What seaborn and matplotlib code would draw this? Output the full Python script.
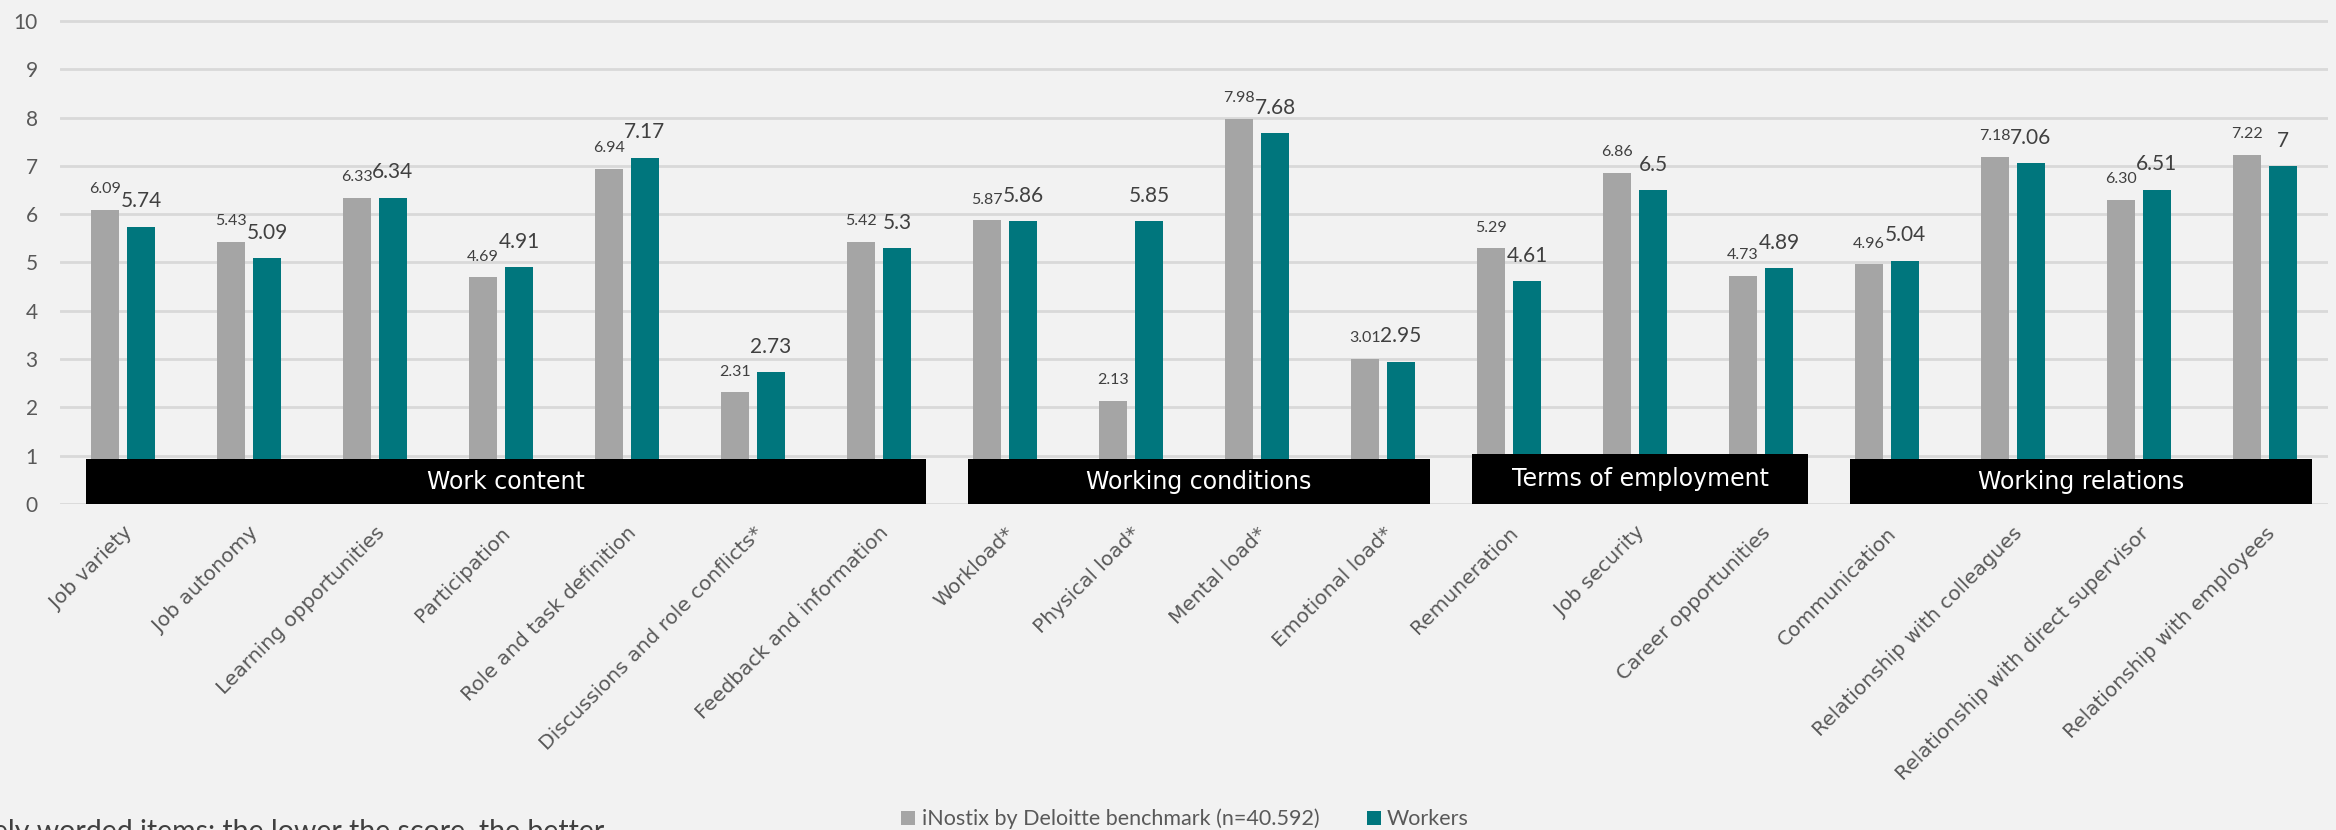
import matplotlib
matplotlib.use("Agg")
import matplotlib.pyplot as plt
import pandas as pd
import seaborn as sns
from matplotlib.patches import Rectangle

# ---- data -------------------------------------------------------------
categories = [
    "Job variety", "Job autonomy", "Learning opportunities", "Participation",
    "Role and task definition", "Discussions and role conflicts*",
    "Feedback and information",
    "Workload*", "Physical load*", "Mental load*", "Emotional load*",
    "Remuneration", "Job security", "Career opportunities",
    "Communication", "Relationship with colleagues",
    "Relationship with direct supervisor", "Relationship with employees",
]
benchmark = [6.09, 5.43, 6.33, 4.69, 6.94, 2.31, 5.42,
             5.87, 2.13, 7.98, 3.01,
             5.29, 6.86, 4.73,
             4.96, 7.18, 6.30, 7.22]
workers = [5.74, 5.09, 6.34, 4.91, 7.17, 2.73, 5.3,
           5.86, 5.85, 7.68, 2.95,
           4.61, 6.5, 4.89,
           5.04, 7.06, 6.51, 7]
series_names = ["iNostix by Deloitte benchmark (n=40.592)", "Workers"]
groups = ["Work content", "Working conditions", "Terms of employment", "Working relations"]
group_sizes = [7, 4, 3, 4]
y_ticks = list(range(0, 11))
footnote = "* Negatively worded items: the lower the score, the better"

# ---- style ------------------------------------------------------------
BG = "#F2F2F2"
GREY = "#A5A5A5"
TEAL = "#00767D"
GRID = "#D9D9D9"
AXIS_TXT = "#595959"
VAL_TXT = "#404040"

sns.set_theme(style="white", rc={"axes.facecolor": BG, "figure.facecolor": BG})
plt.rcParams["font.family"] = ["DejaVu Sans"]

W, H = 2336, 830
fig = plt.figure(figsize=(W / 100, H / 100), dpi=100, facecolor=BG)
ax = fig.add_axes([60 / W, 1 - 504 / H, (2328 - 60) / W, (504 - 20) / H])

df = pd.DataFrame({
    "item": categories * 2,
    "series": [series_names[0]] * len(categories) + [series_names[1]] * len(categories),
    "score": benchmark + workers,
})

sns.barplot(data=df, x="item", y="score", hue="series", order=categories,
            hue_order=series_names, palette=[GREY, TEAL], saturation=1,
            width=0.571, gap=0.224, errorbar=None, linewidth=0, ax=ax)

# value labels above each bar
ax.bar_label(ax.containers[0], labels=[f"{v:.2f}" for v in benchmark],
             padding=10, fontsize=11.5, color=VAL_TXT, family="Lato")
ax.bar_label(ax.containers[1], labels=[f"{v:g}" for v in workers],
             padding=11, fontsize=15, color=VAL_TXT, family="Lato")

# axes
ax.set_ylim(0, 10.02)
ax.set_xlim(-0.5, len(categories) - 0.5)
ax.set_yticks(y_ticks)
ax.set_yticklabels([str(t) for t in y_ticks], family="Lato", fontsize=15, color=AXIS_TXT)
ax.yaxis.grid(True, color=GRID, linewidth=2)
ax.set_axisbelow(True)
for s in ax.spines.values():
    s.set_visible(False)
ax.tick_params(axis="both", length=0)
ax.tick_params(axis="y", pad=16)
ax.tick_params(axis="x", pad=14)
ax.set_xlabel("")
ax.set_ylabel("")
ax.set_xticks(range(len(categories)))
ax.set_xticklabels(categories, rotation=45, ha="right", va="top",
                   rotation_mode="anchor", fontsize=14.5, color=AXIS_TXT)

# black group bands across the base of the bars
start = 0
for name, n in zip(groups, group_sizes):
    x0 = start - 0.29
    x1 = start + n - 1 + 0.37
    top = 1.03 if name == "Terms of employment" else 0.93
    ax.add_patch(Rectangle((x0, 0), x1 - x0, top, facecolor="black",
                           edgecolor="none", zorder=5, clip_on=False))
    ax.text((x0 + x1) / 2, top / 2, name, ha="center", va="center",
            color="white", fontsize=17, zorder=6)
    start += n

# legend at the bottom
sns.move_legend(ax, "center", bbox_to_anchor=(1185 / W, 1 - 819 / H),
                bbox_transform=fig.transFigure, ncol=2, frameon=False,
                title=None, prop={"family": "Lato", "size": 15.5},
                labelcolor=AXIS_TXT, handlelength=0.65, handleheight=0.65,
                handletextpad=0.3, columnspacing=2.2)

# footnote runs off the lower-left corner of the canvas
fig.text(604 / W, 1 - 818 / H, footnote, ha="right", va="top",
         fontsize=20.5, family="Lato", color=VAL_TXT)

fig.savefig("out.png", dpi=100, facecolor=BG)
